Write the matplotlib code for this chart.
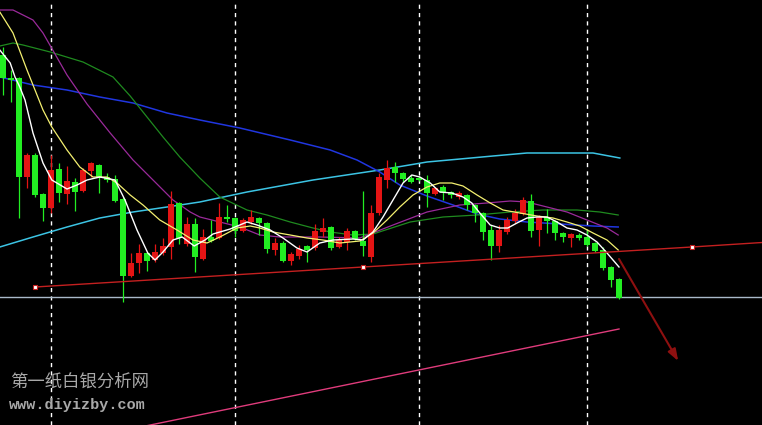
import numpy as np
import matplotlib
matplotlib.use("Agg")
import matplotlib.pyplot as plt

# ---- candle data (price levels measured on an inverted scale: smaller = higher) ----
open_ = [55, 78, 78, 177, 155, 194, 208, 169, 194, 182,
         191, 171, 165, 177, 179, 199, 276, 263, 253, 260,
         253, 247, 203, 244, 224, 259, 237, 238, 217, 218,
         231, 222, 218, 223, 250, 243, 261, 256, 246, 248,
         232, 227, 247, 242, 231, 241, 257, 213, 180, 167,
         173, 178, 178, 180, 194, 187, 192, 197, 195, 205,
         213, 230, 246, 232, 221, 214, 201, 230, 217, 221,
         233, 238, 235, 237, 243, 250, 267, 279]
high_ = [47, 70, 77, 153, 153, 193, 155, 163, 166, 178,
         168, 162, 164, 173, 175, 197, 253, 244, 252, 244,
         238, 191, 202, 217, 218, 229, 220, 203, 205, 217,
         218, 210, 217, 222, 238, 241, 252, 245, 245, 224,
         218, 226, 237, 228, 230, 191, 205, 173, 160, 162,
         172, 175, 176, 175, 187, 185, 191, 191, 194, 204,
         212, 225, 225, 217, 209, 197, 194, 215, 209, 220,
         232, 233, 233, 230, 242, 247, 266, 278]
low_ = [95, 102, 218, 188, 197, 221, 213, 202, 204, 211,
        192, 177, 193, 182, 202, 302, 277, 273, 271, 262,
        255, 259, 244, 246, 272, 260, 242, 239, 222, 237,
        232, 224, 235, 253, 255, 262, 265, 259, 262, 250,
        237, 250, 248, 250, 240, 256, 262, 215, 188, 182,
        182, 183, 181, 207, 195, 200, 198, 199, 210, 222,
        240, 260, 252, 234, 223, 215, 237, 246, 233, 240,
        242, 247, 240, 246, 252, 270, 287, 299]
close_ = [78, 80, 177, 155, 195, 208, 170, 193, 181, 192,
          170, 163, 177, 180, 201, 276, 263, 253, 261, 252,
          246, 204, 238, 224, 257, 237, 241, 217, 219, 231,
          220, 217, 223, 249, 243, 261, 254, 249, 250, 231,
          228, 248, 240, 231, 239, 246, 213, 177, 168, 173,
          179, 182, 180, 193, 188, 193, 195, 193, 205, 213,
          232, 246, 230, 220, 213, 200, 231, 217, 221, 233,
          237, 234, 238, 245, 251, 268, 280, 298]

# ---- moving-average lines (bar position, level) ----
white_x = [-0.4, 0.9, 1.5, 2.1, 2.75, 3.75, 5, 6.1, 8, 9.25, 10.5, 12.1,
           14, 15.25, 16.75, 18.1, 19, 20, 21.25, 22.4, 23.9, 25.25,
           26.25, 28.4, 30.5, 31.75, 33.4, 35, 36.75, 38, 39.6, 41.25,
           43.75, 45, 46.25, 47.5, 48.75, 50, 51.1, 52.1, 53.4, 54.6,
           56.1, 57.5, 58.6, 59.6, 60.9, 62.1, 63.1, 64.25, 65.5, 66.75,
           68, 69.25, 70.5, 71.75, 73, 74.25, 75.5, 77]
white_y = [50, 63, 77, 87, 100, 133, 163, 180, 189, 185, 180, 177,
           180, 200, 230, 253, 260, 252, 240, 237, 246, 240,
           234, 229, 222, 225, 230, 238, 248, 252, 243, 240,
           239, 240, 232, 217, 200, 183, 175, 177, 183, 192,
           193, 197, 203, 213, 225, 228, 228, 223, 218, 217,
           217, 222, 228, 230, 235, 242, 253, 267]

yellow_x = [-0.4, 1.25, 3, 5, 6.1, 8, 9.6, 11.25, 13, 14.25, 15.9,
            17.5, 19.6, 21.75, 23.75, 25.5, 27.1, 29.25, 30.9, 32.1, 33.75,
            35.9, 38, 40, 42.1, 44.6, 46.25, 48, 49.6, 51.25, 53,
            54.6, 56.1, 57.5, 59.25, 60.9, 62.5, 64.6, 66.75, 68.75, 70.5,
            72.1, 73.75, 75.5, 76.9]
yellow_y = [12, 33, 70, 110, 127, 150, 167, 177, 177, 183, 195,
            205, 220, 230, 240, 243, 237, 228, 226, 228, 232,
            235, 238, 240, 243, 241, 233, 220, 207, 195, 187,
            183, 183, 186, 195, 203, 210, 213, 216, 218, 222,
            226, 233, 240, 250]

purple_x = [-0.4, 1.25, 3.75, 5, 8, 10.5, 13.4, 16.25, 18.75, 21.25,
            23.4, 24.6, 27.1, 29.6, 32.1, 34.6, 39.6, 44.6, 48.75, 53,
            57.1, 60.5, 63.4, 65.5, 68, 70.5, 73, 75.5, 76.9]
purple_y = [10, 10, 20, 33, 75, 104, 133, 160, 180, 200,
            212, 217, 222, 227, 235, 237, 237, 238, 225, 212,
            205, 203, 201, 202, 207, 212, 220, 228, 235]

green_x = [-0.4, 1.25, 2.5, 5.9, 10, 13.75, 15.9, 20, 22.1, 24.6,
           27.1, 30.5, 33, 35.9, 38.75, 40.9, 43.75, 46.25, 50.9, 55,
           59.25, 63.4, 67.5, 71.75, 74.6, 76.9]
green_y = [46, 43, 45, 52, 62, 77, 96, 137, 157, 178,
           197, 210, 215, 222, 228, 232, 235, 234, 222, 217,
           215, 212, 210, 210, 212, 215]

blue_x = [-0.4, 3.75, 8, 12.1, 16.25, 20.5, 24.6, 29.6, 35.9, 40.9,
          44.25, 47.1, 49.6, 53, 56.25, 59.25, 62.1, 65.5, 69.6, 73.75, 76.9]
blue_y = [77, 85, 90, 97, 103, 113, 120, 128, 140, 150,
          160, 172, 185, 196, 205, 214, 219, 222, 224, 226, 227]

cyan_x = [-0.4, 3.75, 8, 12.1, 16.25, 20.5, 24.6, 30.5, 38.75, 44.6,
          47.1, 53, 61.25, 65.5, 71.75, 73.75, 77.1]
cyan_y = [247, 237, 227, 218, 212, 207, 202, 192, 180, 173,
          170, 162, 156, 153, 153, 153, 158]

# ---- drawn objects ----
trend_x = [4, 45, 86.1, 94.9]
trend_y = [287, 267, 247, 242.5]
anchor_count = 3
support_level = 297
channel_x = [18.1, 77]
channel_y = [425.5, 329]
arrow_start = (77, 259)
arrow_end = (84.4, 361)
separators = [6, 29, 52, 73]

fig = plt.figure(figsize=(7.62, 4.25), dpi=100)
fig.patch.set_facecolor("black")
ax = fig.add_axes([0, 0, 1, 1])
ax.set_facecolor("black")
ax.set_xlim(-0.375, 94.875)
ax.set_ylim(425, 0)
ax.axis("off")

# day separators
for s in separators:
    ax.axvline(s, color="white", lw=1.0, ls=(0, (3, 3)), zorder=1)

# support horizontal line
ax.axhline(support_level, color="#a9b9c9", lw=1.0, zorder=2)

# moving averages
ax.plot(cyan_x, cyan_y, color="#3cc4e4", lw=1.1, zorder=3)
ax.plot(blue_x, blue_y, color="#2036e0", lw=1.1, zorder=3)
ax.plot(green_x, green_y, color="#1f8a1f", lw=0.9, zorder=3)
ax.plot(purple_x, purple_y, color="#9a2a9a", lw=0.9, zorder=3)

# candles
x = np.arange(len(open_))
green_c = "#22ee22"
red_c = "#e41414"
colors = [red_c if c < o else green_c for o, c in zip(open_, close_)]
ax.vlines(x, high_, low_, colors=colors, lw=0.9, zorder=4)
bottoms = [min(o, c) for o, c in zip(open_, close_)]
heights = [max(abs(o - c), 1.2) for o, c in zip(open_, close_)]
ax.bar(x, heights, bottom=bottoms, width=0.66, color=colors, lw=0, zorder=5)

ax.plot(yellow_x, yellow_y, color="#f4f070", lw=0.9, zorder=6)
ax.plot(white_x, white_y, color="white", lw=1.0, zorder=6)

# trend line with anchor markers
ax.plot(trend_x, trend_y, color="#c42020", lw=1.0, zorder=6)
ax.plot(trend_x[:anchor_count], trend_y[:anchor_count], ls="none", marker="s",
        ms=3.5, mfc="white", mec="#c42020", mew=0.8, zorder=7)

# lower channel line
ax.plot(channel_x, channel_y, color="#e03c7c", lw=1.0, zorder=6)

# forecast arrow
ax.annotate("", xy=arrow_end, xytext=arrow_start,
            arrowprops=dict(arrowstyle="-|>,head_length=0.7,head_width=0.25",
                            color="#8e1010", lw=1.5, shrinkA=0, shrinkB=0),
            zorder=7)

# watermark
fig.text(10 / 762, 1 - 382 / 425, "第一纸白银分析网", color="#a8a8a8",
         fontsize=12.5, family=["Noto Sans CJK SC", "DejaVu Sans"], weight="medium",
         va="center", ha="left")
fig.text(9 / 762, 1 - 405 / 425, "www.diyizby.com", color="#a8a8a8",
         fontsize=10.9, family=["Liberation Mono", "DejaVu Sans Mono"], weight="bold",
         va="center", ha="left")

fig.savefig("out.png", dpi=100, facecolor="black")
